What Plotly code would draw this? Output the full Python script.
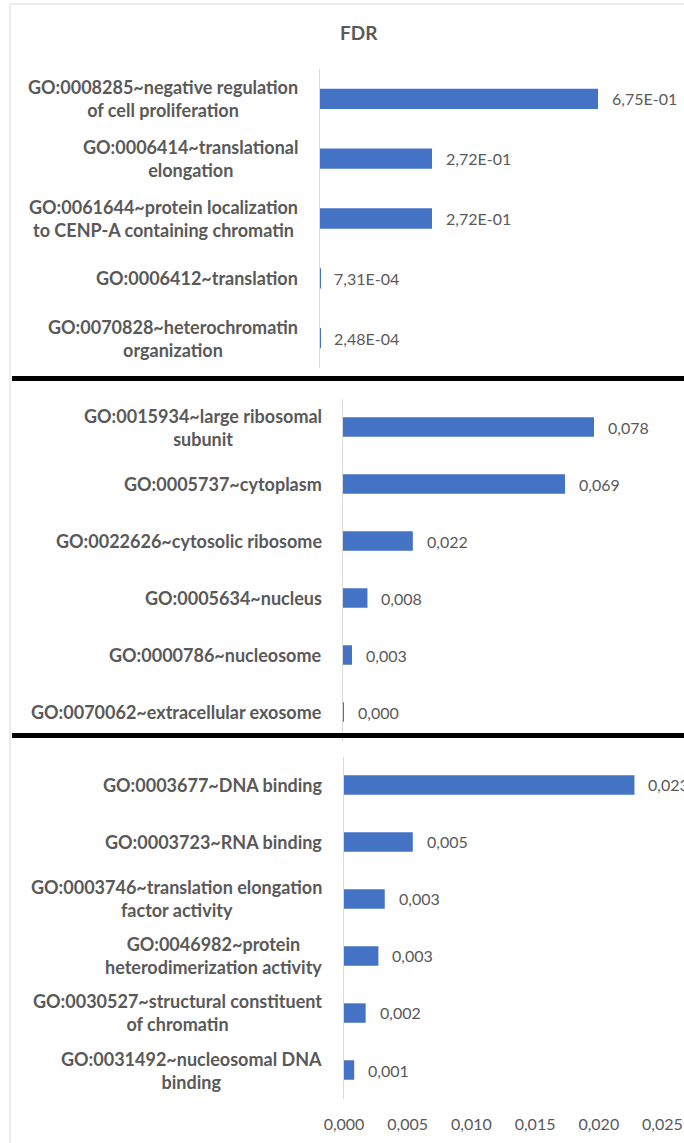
import plotly.graph_objects as go

# ---- data -------------------------------------------------------------
bp_terms = [
    "GO:0008285~negative regulation<br>of cell proliferation",
    "GO:0006414~translational<br>elongation",
    "GO:0061644~protein localization<br>to CENP-A containing chromatin",
    "GO:0006412~translation",
    "GO:0070828~heterochromatin<br>organization",
]
bp_fdr = [0.675, 0.272, 0.272, 0.000731, 0.000248]

cc_terms = [
    "GO:0015934~large ribosomal<br>subunit",
    "GO:0005737~cytoplasm",
    "GO:0022626~cytosolic ribosome",
    "GO:0005634~nucleus",
    "GO:0000786~nucleosome",
    "GO:0070062~extracellular exosome",
]
cc_fdr = [0.078, 0.069, 0.0217, 0.0076, 0.0028, 0.0002]

mf_terms = [
    "GO:0003677~DNA binding",
    "GO:0003723~RNA binding",
    "GO:0003746~translation elongation<br>factor activity",
    "GO:0046982~protein<br>heterodimerization activity",
    "GO:0030527~structural constituent<br>of chromatin",
    "GO:0031492~nucleosomal DNA<br>binding",
]
mf_fdr = [0.0228, 0.0054, 0.0032, 0.0027, 0.0017, 0.0008]

x_ticks = [0.0, 0.005, 0.010, 0.015, 0.020, 0.025]

# ---- styling ----------------------------------------------------------
W, H = 684, 1143
BAR = "#4472C4"
TXT = "#595959"
AXIS = "#D9D9D9"
FONT = "Lato"


def px_x(v):
    return v / W


def px_y(v):
    return 1 - v / H


def sci(v):
    return f"{v:.2E}".replace(".", ",")


def fix3(v):
    return f"{v:.3f}".replace(".", ",")


panels = [
    dict(terms=bp_terms, vals=bp_fdr, fmt=sci, x0=320, top=69, bot=368,
         xmax=0.8838, lab_x=300, shift=12),
    dict(terms=cc_terms, vals=cc_fdr, fmt=fix3, x0=343, top=398.5, bot=740.5,
         xmax=0.10597, lab_x=324, shift=12),
    dict(terms=mf_terms, vals=mf_fdr, fmt=fix3, x0=344, top=756.5, bot=1098.5,
         xmax=0.02669, lab_x=324, shift=12),
]

fig = go.Figure()
annotations = []

for i, p in enumerate(panels, start=1):
    xa = "x" if i == 1 else f"x{i}"
    ya = "y" if i == 1 else f"y{i}"
    fig.add_trace(go.Bar(
        x=p["vals"], y=p["terms"], orientation="h",
        marker=dict(color=BAR, line=dict(width=0)),
        width=0.34, xaxis=xa, yaxis=ya, showlegend=False,
        hoverinfo="x+y",
    ))
    last = i == len(panels)
    fig.update_layout(**{
        ("xaxis" if i == 1 else f"xaxis{i}"): dict(
            domain=[px_x(p["x0"]), 1], range=[0, p["xmax"]],
            anchor=ya, showgrid=False, zeroline=False, showline=False,
            showticklabels=last, tickvals=x_ticks if last else None,
            tickformat=".3f", ticks="", ticklabelstandoff=14 if last else 0,
            tickfont=dict(family=FONT, size=16, color=TXT),
            automargin=False, fixedrange=True,
        ),
        ("yaxis" if i == 1 else f"yaxis{i}"): dict(
            domain=[px_y(p["bot"]), px_y(p["top"])], anchor=xa,
            type="category", autorange="reversed",
            showticklabels=False, showgrid=False, zeroline=False,
            showline=True, linecolor=AXIS, linewidth=1, ticks="",
            automargin=False, fixedrange=True,
        ),
    })
    # category labels: block right aligned, lines centred within it
    for term in p["terms"]:
        annotations.append(dict(
            x=px_x(p["lab_x"]), xref="paper", y=term, yref=ya,
            text=term, showarrow=False, xanchor="right", yanchor="middle",
            align="center",
            font=dict(family=FONT, size=18, color=TXT, weight="bold"),
        ))
    # value labels next to the bars
    for term, v in zip(p["terms"], p["vals"]):
        annotations.append(dict(
            x=v, xref=xa, y=term, yref=ya, text=p["fmt"](v),
            showarrow=False, xanchor="left", yanchor="middle",
            xshift=p["shift"],
            font=dict(family=FONT, size=16, color=TXT),
        ))

# chart title
annotations.append(dict(
    x=px_x(359), xref="paper", y=px_y(33), yref="paper", text="FDR",
    showarrow=False, xanchor="center", yanchor="middle",
    font=dict(family=FONT, size=19, color=TXT, weight="bold"),
))

shapes = [
    # outer frame (top and left edges)
    dict(type="line", xref="paper", yref="paper", x0=px_x(10), x1=1,
         y0=px_y(4), y1=px_y(4), line=dict(color=AXIS, width=1)),
    dict(type="line", xref="paper", yref="paper", x0=px_x(10), x1=px_x(10),
         y0=px_y(4), y1=0, line=dict(color=AXIS, width=1)),
    # black separators between the three panels
    dict(type="rect", xref="paper", yref="paper", x0=px_x(12), x1=1,
         y0=px_y(381), y1=px_y(376), fillcolor="black", line=dict(width=0),
         layer="above"),
    dict(type="rect", xref="paper", yref="paper", x0=px_x(12), x1=1,
         y0=px_y(738), y1=px_y(733), fillcolor="black", line=dict(width=0),
         layer="above"),
]

fig.update_layout(
    width=W, height=H, margin=dict(l=0, r=0, t=0, b=0, autoexpand=False),
    paper_bgcolor="white", plot_bgcolor="white",
    separators=",.", annotations=annotations, shapes=shapes,
    font=dict(family=FONT, color=TXT),
)

fig.write_html("out.html")
